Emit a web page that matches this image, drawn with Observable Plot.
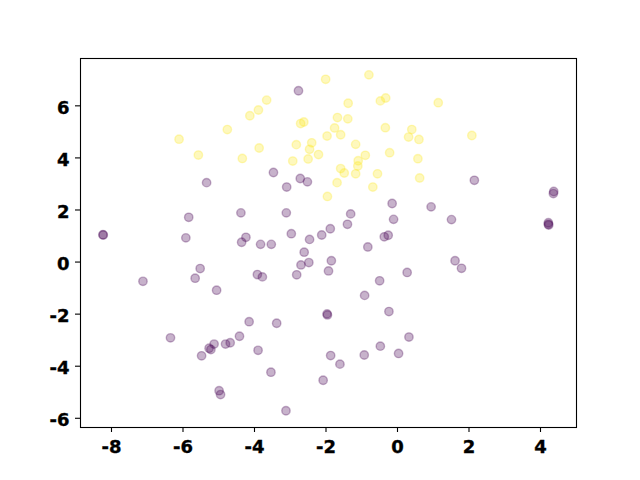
<!DOCTYPE html>
<html>
<head>
<meta charset="utf-8">
<script src="https://cdn.jsdelivr.net/npm/d3@7"></script>
<script src="https://cdn.jsdelivr.net/npm/@observablehq/plot@0.6"></script>
<style>
  html, body { margin: 0; padding: 0; background: #fff; }
  svg text { stroke: #000; stroke-width: 0.35px; }
</style>
</head>
<body>
<div id="chart"></div>
<script>
// Class 0 (viridis low, purple)
const purpleX = [-5.34,-5.84,-8.24,-8.23,-5.92,-2.77,-3.47,-2.72,-2.52,-3.10,-4.38,-3.11,-4.24,-4.36,-2.97,-2.46,-2.12,-1.88,-3.83,-3.53,-2.61,-0.15,0.94,-1.31,-0.11,-1.40,-0.37,-0.26,-0.83,2.15,4.37,4.36,1.51,4.22,4.22,4.23,-5.52,-5.66,-7.12,-6.35,-5.27,-5.22,-5.48,-2.70,-2.48,-2.82,-3.92,-3.78,-1.85,-1.93,-5.06,-4.15,-3.38,-1.97,-1.96,-5.13,-4.81,-4.68,-4.42,-3.90,-1.87,-3.54,-2.08,-4.99,-4.95,-3.12,0.27,-0.50,-0.92,-0.24,0.32,-0.48,-0.93,0.03,-1.61,1.61,1.79];
const purpleY = [3.05,1.72,1.05,1.04,0.93,6.58,3.44,3.21,3.08,2.88,1.89,1.89,0.95,0.76,1.09,0.87,1.04,1.28,0.68,0.68,0.38,2.25,2.12,1.85,1.64,1.45,0.97,1.03,0.58,3.14,2.71,2.63,1.63,1.51,1.45,1.42,-0.25,-0.62,-0.74,-2.91,-3.31,-3.36,-3.60,-0.11,-0.02,-0.49,-0.48,-0.57,0.05,-0.34,-1.08,-2.29,-2.35,-1.99,-2.03,-3.15,-3.15,-3.10,-2.85,-3.39,-3.59,-4.23,-4.54,-4.94,-5.09,-5.71,-0.40,-0.72,-1.28,-1.90,-2.88,-3.23,-3.57,-3.51,-3.92,0.05,-0.24];
// Class 1 (viridis high, yellow)
const yellowX = [-6.11,-5.57,-2.01,-3.66,-3.89,-4.13,-2.71,-2.62,-4.76,-1.97,-2.40,-2.83,-2.46,-3.87,-2.21,-4.34,-2.50,-2.93,-1.96,-0.80,-1.38,-0.48,-0.33,1.14,-1.68,-1.39,-1.76,-1.59,-0.34,0.40,0.31,0.60,-1.17,-0.90,-0.22,0.57,-1.10,-1.11,-1.59,-1.49,-1.17,-0.56,0.62,-1.69,-0.69,2.08];
const yellowY = [4.72,4.11,7.02,6.22,5.84,5.62,5.32,5.38,5.09,4.84,4.58,4.51,4.33,4.38,4.13,3.98,3.96,3.88,2.52,7.19,6.10,6.19,6.30,6.12,5.55,5.50,5.15,4.89,5.16,5.09,4.80,4.71,4.52,4.10,4.20,3.97,3.89,3.69,3.59,3.42,3.39,3.39,3.23,3.05,2.88,4.86];
const xTicks = [-8, -6, -4, -2, 0, 2, 4];
const yTicks = [-6, -4, -2, 0, 2, 4, 6];

const purple = purpleX.map((x, i) => ({x, y: purpleY[i]}));
const yellow = yellowX.map((x, i) => ({x, y: yellowY[i]}));
const fmt = d => String(d);

const chart = Plot.plot({
  width: 640,
  height: 480,
  marginLeft: 80,
  marginRight: 64,
  marginTop: 58,
  marginBottom: 53,
  style: {fontFamily: "DejaVu Sans", fontSize: "18px", fontWeight: "bold", color: "#000", background: "#fff"},
  x: {domain: [-8.867, 5.007], label: null},
  y: {domain: [-6.354, 7.818], label: null},
  marks: [
    Plot.dot(purple, {x: "x", y: "y", r: 4.2, fill: "#440154", fillOpacity: 0.3, stroke: "#440154", strokeOpacity: 0.3, strokeWidth: 1.4}),
    Plot.dot(yellow, {x: "x", y: "y", r: 4.2, fill: "#fde725", fillOpacity: 0.3, stroke: "#fde725", strokeOpacity: 0.3, strokeWidth: 1.4}),
    Plot.frame({stroke: "#000", strokeWidth: 1.1}),
    Plot.axisX({ticks: xTicks, tickFormat: fmt, tickSize: 5, tickPadding: 8, strokeWidth: 1.1, label: null}),
    Plot.axisY({ticks: yTicks, tickFormat: () => "", tickSize: 5, strokeWidth: 1.1, label: null}),
    Plot.axisY({ticks: yTicks, tickFormat: fmt, tickSize: 0, tickPadding: 11, dy: 2, label: null})
  ]
});
document.getElementById("chart").appendChild(chart);
</script>
</body>
</html>
